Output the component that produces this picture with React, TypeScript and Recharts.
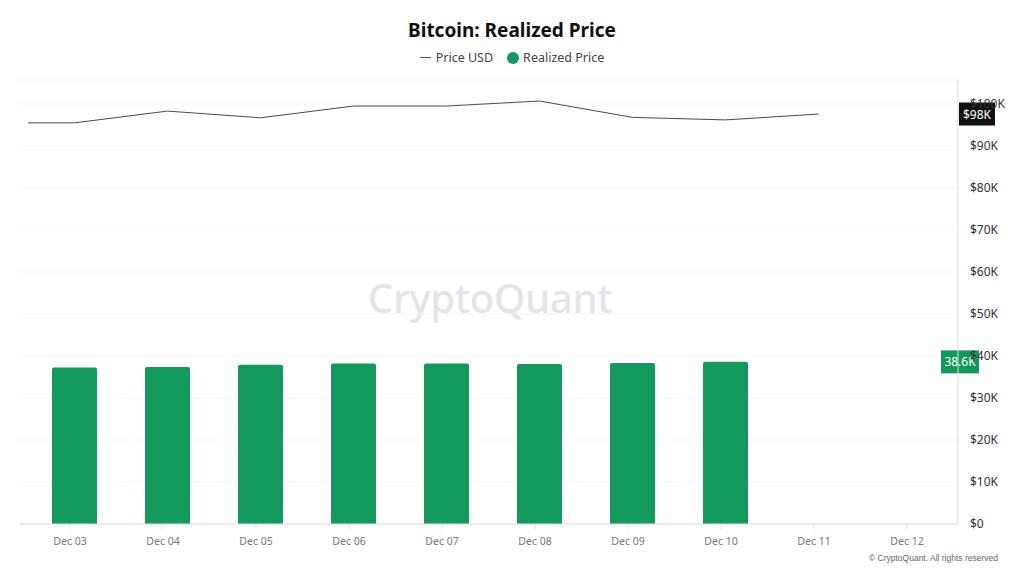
import React from 'react';
import {
  ComposedChart,
  Bar,
  Line,
  XAxis,
  YAxis,
  CartesianGrid,
  ReferenceLine,
} from 'recharts';

const days = ['Dec 03', 'Dec 04', 'Dec 05', 'Dec 06', 'Dec 07', 'Dec 08', 'Dec 09', 'Dec 10', 'Dec 11', 'Dec 12'];
const realizedPrice = [37250, 37400, 37900, 38200, 38200, 38100, 38350, 38600, null, null];

// price line is sampled on day-of-month, first sample sits just before Dec 03
const priceDay = [2.45, 3, 4, 5, 6, 7, 8, 9, 10, 11];
const priceUsd = [95500, 95500, 98300, 96700, 99500, 99500, 100700, 96800, 96200, 97600];

const yTicks = [0, 10000, 20000, 30000, 40000, 50000, 60000, 70000, 80000, 90000, 100000];

const GREEN = '#13985e';
const FONT = '"Noto Sans", "Open Sans", sans-serif';

const barData = days.map((day, i) => ({ day, realized: realizedPrice[i] }));
const lineData = priceDay.map((d, i) => ({ d, price: priceUsd[i] }));

const lastPrice = priceUsd[priceUsd.length - 1];
const lastRealized = realizedPrice.filter((v) => v != null).slice(-1)[0] as number;

const fmtTick = (v: number) => (v === 0 ? '$0' : `$${v / 1000}K`);

const tag = (text: string, bg: string, dx: number, w: number) => (props: any) => {
  const { viewBox } = props;
  const cx = viewBox.x + viewBox.width + dx;
  const cy = viewBox.y;
  return (
    <g>
      <rect x={cx - w / 2} y={cy - 11.5} width={w} height={23} fill={bg} />
      <text x={cx} y={cy + 4.5} textAnchor="middle" fill="#fff" fontSize={12} fontFamily={FONT}>
        {text}
      </text>
    </g>
  );
};

// date ticks sit a few px left of the daily bars (timestamps are offset)
const XTick = (props: any) => {
  const { x, y, payload } = props;
  const tx = x - 4.5;
  return (
    <g>
      <line x1={tx} x2={tx} y1={y} y2={y + 5} stroke="#dcdcdc" />
      <text x={tx} y={y + 21} textAnchor="middle" fill="#777" fontSize={10.5} fontFamily={FONT}>
        {payload.value}
      </text>
    </g>
  );
};

export default function App() {
  return (
    <div style={{ position: 'absolute', left: 0, top: 0, width: 1024, height: 576, background: '#fff', fontFamily: FONT }}>
      <div style={{ position: 'absolute', top: 17, width: '100%', textAlign: 'center', fontSize: 19, fontWeight: 700, color: '#111' }}>
        Bitcoin: Realized Price
      </div>
      <div style={{ position: 'absolute', top: 49, width: '100%', display: 'flex', justifyContent: 'center', alignItems: 'center', fontSize: 12.5, color: '#444' }}>
        <span style={{ display: 'inline-block', width: 11, height: 1, background: '#555', marginRight: 5 }} />
        <span>Price USD</span>
        <span style={{ display: 'inline-block', width: 12, height: 12, borderRadius: 6, background: GREEN, marginLeft: 14, marginRight: 4 }} />
        <span>Realized Price</span>
      </div>
      <div style={{ position: 'absolute', left: 0, top: 270, width: 980, textAlign: 'center', fontSize: 40, fontWeight: 500, color: '#e4e4eb', letterSpacing: -0.3 }}>
        CryptoQuant
      </div>
      <ComposedChart
        width={1024}
        height={576}
        data={barData}
        margin={{ top: 80, right: 6, bottom: 22, left: 20 }}
        style={{ position: 'absolute', left: 0, top: 0 }}
      >
        <CartesianGrid yAxisId="right" vertical={false} stroke="#f3f3f3" />
        <XAxis
          dataKey="day"
          xAxisId="cat"
          height={30}
          padding={{ left: 8, right: 0 }}
          axisLine={{ stroke: '#dcdcdc' }}
          tickLine={false}
          tickSize={0}
          tickMargin={0}
          tick={<XTick />}
          interval={0}
        />
        <XAxis
          xAxisId="time"
          type="number"
          dataKey="d"
          domain={[2.5, 12.5]}
          padding={{ left: 8, right: 0 }}
          allowDataOverflow
          hide
        />
        <YAxis
          yAxisId="right"
          orientation="right"
          width={60}
          domain={[0, 105700]}
          ticks={yTicks}
          allowDataOverflow
          tickFormatter={fmtTick}
          axisLine={{ stroke: '#dcdcdc' }}
          tickLine={false}
          tick={{ fill: '#333', fontSize: 12, fontFamily: FONT, textAnchor: 'start' }}
          dx={4}
        />
        <YAxis yAxisId="left" orientation="left" width={0} tick={false} axisLine={{ stroke: '#e2e2e2' }} />
        <Bar
          dataKey="realized"
          xAxisId="cat"
          yAxisId="right"
          fill={GREEN}
          barSize={45}
          radius={[2, 2, 0, 0]}
          isAnimationActive={false}
        />
        <Line
          data={lineData}
          dataKey="price"
          xAxisId="time"
          yAxisId="right"
          stroke="#4a4a4a"
          strokeWidth={1}
          dot={false}
          activeDot={false}
          isAnimationActive={false}
        />
        <ReferenceLine
          xAxisId="cat"
          yAxisId="right"
          y={lastPrice}
          stroke="none"
          label={{ content: tag(`$${Math.round(lastPrice / 1000)}K`, '#111', 19, 36) }}
        />
        <ReferenceLine
          xAxisId="cat"
          yAxisId="right"
          y={lastRealized}
          stroke="none"
          label={{ content: tag(`${(lastRealized / 1000).toFixed(1)}K`, GREEN, 2, 38) }}
        />
      </ComposedChart>
      <div style={{ position: 'absolute', right: 26, top: 553, fontSize: 8.5, color: '#666', fontFamily: '"Liberation Sans", Arial, sans-serif' }}>
        © CryptoQuant. All rights reserved
      </div>
    </div>
  );
}
